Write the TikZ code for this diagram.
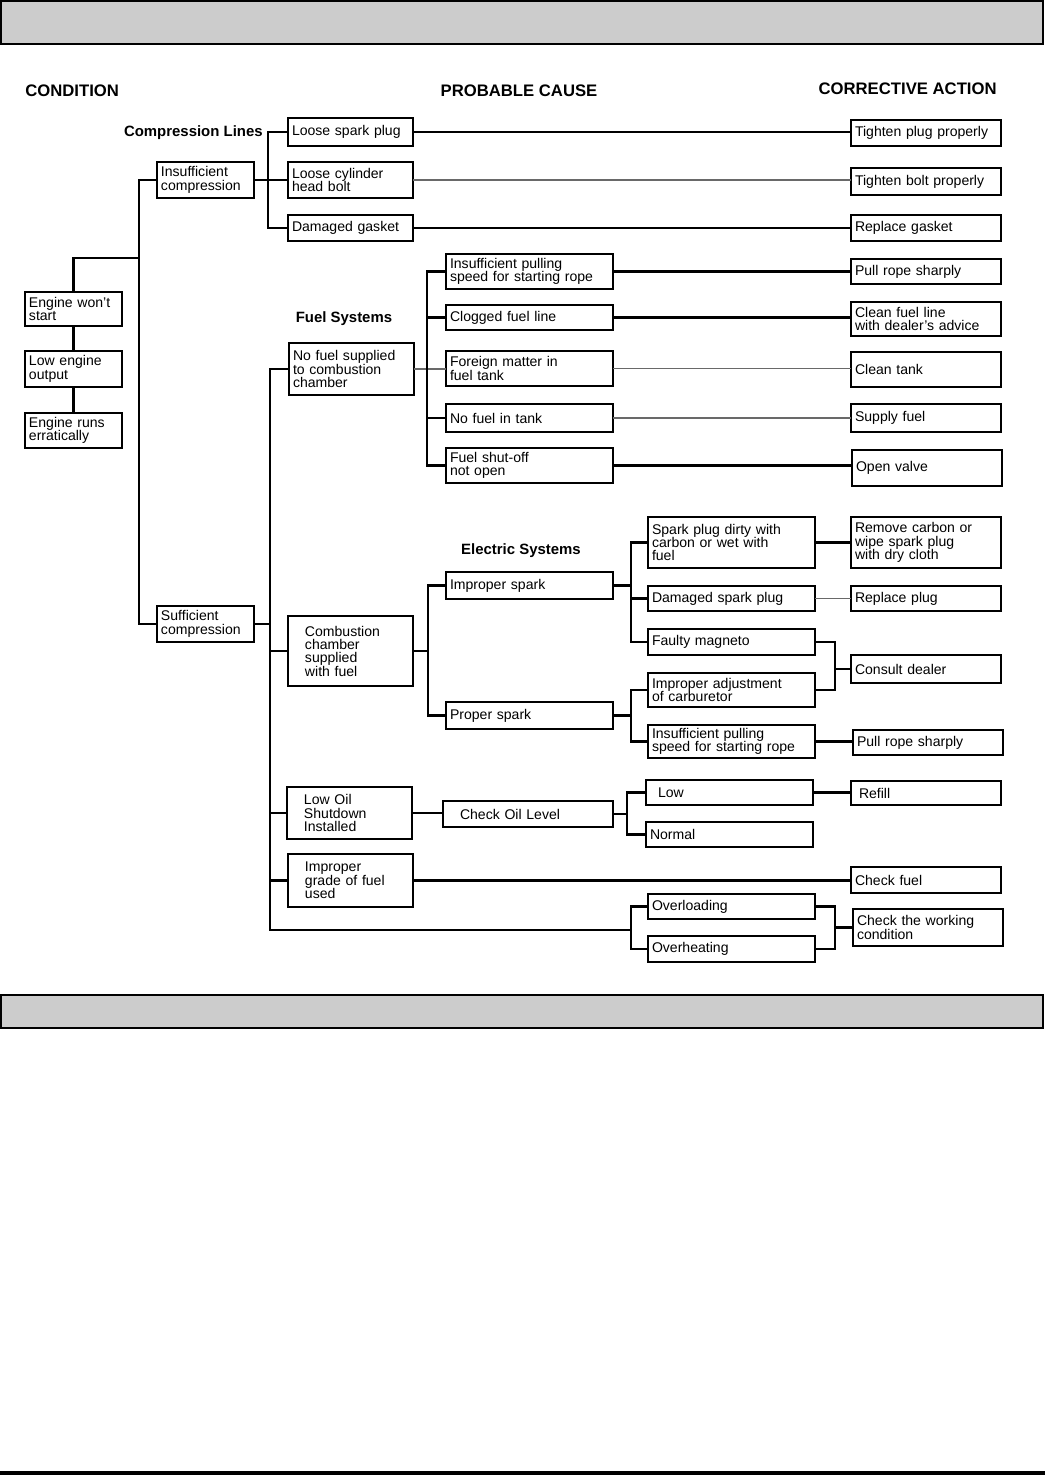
\documentclass[tikz,border=0pt]{standalone}
\usepackage{fontspec}
\setmainfont{Liberation Sans}
\usepackage{tikz}
\definecolor{barGray}{RGB}{204,204,204}
\definecolor{lineGray}{RGB}{105,105,105}

\begin{document}
\begin{tikzpicture}[x=0.02cm, y=-0.02cm,
  cbox/.style={draw, line width=1.3pt, rectangle, align=left, anchor=north west,
               inner xsep=0.08cm, inner ysep=1pt, outer sep=0pt,
               font=\fontsize{8}{7.6}\selectfont},
  ht/.style={minimum height=#1*0.02cm},
  cond/.style={cbox, text width=1.78cm},
  cause/.style={cbox, text width=2.34cm},
  fuel/.style={cbox, text width=3.18cm},
  act/.style={cbox, text width=2.84cm},
  indent/.style={inner xsep=0.34cm, text width=1.82cm},
  hdr/.style={font=\fontsize{9.5}{11}\selectfont\bfseries, inner sep=0pt},
  sect/.style={font=\fontsize{8.5}{10}\selectfont\bfseries, inner sep=0pt},
  ln/.style={line width=1.2pt},
  thinln/.style={line width=0.9pt, lineGray}]
  \useasboundingbox (0,0) rectangle (1045,1475);
  % bars
  \draw[line width=1.1pt, fill=barGray] (1,1) rectangle (1043,44);
  \draw[line width=1.1pt, fill=barGray] (1,995) rectangle (1043,1028);
  \fill (0,1471) rectangle (1045,1475);
  % column heads
  \node[hdr, anchor=west] (hcond) at (25,91) {CONDITION};
  \node[hdr] (hcause) at (519,91) {PROBABLE CAUSE};
  \node[hdr, anchor=east] (hact) at (997,89) {CORRECTIVE ACTION};
  \node[sect, anchor=east] (lcomp) at (263,133) {Compression Lines};
  \node[sect] (lfuel) at (344,319) {Fuel Systems};
  \node[sect] (lelec) at (521,551) {Electric Systems};

  % condition
  \node[cond, ht=34] (ws) at (25,292) {Engine won't\\start};
  \node[cond, ht=36] (lo) at (25,351) {Low engine\\output};
  \node[cond, ht=35] (er) at (25,413) {Engine runs\\erratically};
  \node[cond, ht=36] (ins) at (157,162) {Insufficient\\compression};
  \node[cond, ht=36] (suf) at (157,606) {Sufficient\\compression};

  % probable cause
  \node[cause, ht=28] (lsp) at (288,118) {Loose spark plug};
  \node[cause, ht=36] (hb) at (288,162) {Loose cylinder\\head bolt};
  \node[cause, ht=26] (dg) at (288,215) {Damaged gasket};
  \node[cause, ht=52] (nfs) at (289,343) {No fuel supplied\\to combustion\\chamber};
  \node[cause, indent, ht=70] (ccs) at (288,616) {Combustion\\chamber\\supplied\\with fuel};
  \node[cause, indent, ht=52] (los) at (287,787) {Low Oil\\Shutdown\\Installed};
  \node[cause, indent, ht=53] (igf) at (288,854) {Improper\\grade of fuel\\used};

  \node[fuel, ht=35] (ipr) at (446,254) {Insufficient pulling\\speed for starting rope};
  \node[fuel, ht=25] (cfl) at (446,305) {Clogged fuel line};
  \node[fuel, ht=35] (fm) at (446,351) {Foreign matter in\\fuel tank};
  \node[fuel, ht=28] (nft) at (446,404) {No fuel in tank};
  \node[fuel, ht=35] (fso) at (446,448) {Fuel shut-off\\not open};
  \node[fuel, ht=27] (isp) at (446,572) {Improper spark};
  \node[fuel, ht=27] (psp) at (446,702) {Proper spark};
  \node[fuel, ht=26, inner xsep=0.34cm, text width=2.72cm] (col) at (443,801) {Check Oil Level};

  \node[fuel, ht=51] (spd) at (648,517) {Spark plug dirty with\\carbon or wet with\\fuel};
  \node[fuel, ht=25] (dsp) at (648,586) {Damaged spark plug};
  \node[fuel, ht=26] (fmg) at (648,629) {Faulty magneto};
  \node[fuel, ht=34] (iac) at (648,673) {Improper adjustment\\of carburetor};
  \node[fuel, ht=33] (ipr2) at (648,725) {Insufficient pulling\\speed for starting rope};
  \node[fuel, ht=25, inner xsep=0.24cm, text width=2.86cm] (low) at (646,780) {Low};
  \node[fuel, ht=25] (nrm) at (646,822) {Normal};
  \node[fuel, ht=25] (ovl) at (648,894) {Overloading};
  \node[fuel, ht=26] (ovh) at (648,936) {Overheating};

  % corrective action
  \node[act, ht=26] (tpp) at (851,120) {Tighten plug properly};
  \node[act, ht=27] (tbp) at (851,168) {Tighten bolt properly};
  \node[act, ht=26] (rg) at (851,215) {Replace gasket};
  \node[act, ht=25] (prs) at (851,259) {Pull rope sharply};
  \node[act, ht=34] (cfa) at (851,302) {Clean fuel line\\with dealer's advice};
  \node[act, ht=35] (ct) at (851,352) {Clean tank};
  \node[act, ht=28] (sf) at (851,404) {Supply fuel};
  \node[act, ht=36] (ov) at (852,450) {Open valve};
  \node[act, ht=51] (rc) at (851,517) {Remove carbon or\\wipe spark plug\\with dry cloth};
  \node[act, ht=25] (rp) at (851,586) {Replace plug};
  \node[act, ht=28] (cd) at (851,655) {Consult dealer};
  \node[act, ht=25] (prs2) at (853,730) {Pull rope sharply};
  \node[act, ht=24, inner xsep=0.16cm, text width=2.68cm] (rf) at (851,781) {Refill};
  \node[act, ht=26] (chf) at (851,867) {Check fuel};
  \node[act, ht=37] (cwc) at (853,909) {Check the working\\condition};

  % condition links
  \coordinate (trunk) at (139,258);
  \draw[ln] (ws) -- (lo);
  \draw[ln] (lo) -- (er);
  \draw[ln] (ws.north) |- (trunk);
  \draw[ln] (ins.west) -- ++(-18,0) |- (suf.west);

  % compression
  \draw[ln] (ins.east) -- (ins.east -| hb.west);
  \draw[ln] (lsp.west) -- ++(-20,0) |- (dg.west);
  \draw[ln] (lsp.east) -- (lsp.east -| tpp.west);
  \draw[thinln] (hb.east) -- (hb.east -| tbp.west);
  \draw[ln] (dg.east) -- (dg.east -| rg.west);

  % sufficient compression trunk
  \coordinate (ovj) at (631,930);
  \draw[ln] (suf.east) -- ++(16,0);
  \draw[ln] (nfs.west) -- ++(-19,0) |- (ovj);
  \draw[ln] (ccs.west) -- ++(-18,0);
  \draw[ln] (los.west) -- ++(-17,0);
  \draw[ln] (igf.west) -- ++(-18,0);

  % fuel systems
  \draw[thinln] (nfs.east) -- (nfs.east -| fm.west);
  \draw[ln] (ipr.west) -- ++(-19,0) |- (fso.west);
  \draw[ln] (cfl.west) -- ++(-19,0);
  \draw[ln] (nft.west) -- ++(-19,0);
  \draw[ln] (ipr.east) -- (ipr.east -| prs.west);
  \draw[line width=1.5pt] (cfl.east) -- (cfl.east -| cfa.west);
  \draw[thinln] (fm.east) -- (fm.east -| ct.west);
  \draw[thinln] (nft.east) -- (nft.east -| sf.west);
  \draw[ln] (fso.east) -- (fso.east -| ov.west);

  % electric systems
  \draw[ln] (ccs.east) -- ++(15,0);
  \draw[ln] (isp.west) -- ++(-18,0) |- (psp.west);
  \draw[ln] (isp.east) -- ++(18,0);
  \draw[ln] (spd.west) -- ++(-17,0) |- (fmg.west);
  \draw[ln] (dsp.west) -- ++(-17,0);
  \draw[ln] (psp.east) -- ++(18,0);
  \draw[ln] (iac.west) -- ++(-17,0) |- (ipr2.west);
  \draw[ln] (spd.east) -- (spd.east -| rc.west);
  \draw[thinln] (dsp.east) -- (dsp.east -| rp.west);
  \draw[ln] (fmg.east) -- ++(20,0) |- (iac.east);
  \draw[ln] (cd.west) -- ++(-16,0);
  \draw[ln] (ipr2.east) -- (ipr2.east -| prs2.west);

  % oil level
  \draw[ln] (los.east) -- (los.east -| col.west);
  \draw[ln] (col.east) -- ++(14,0);
  \draw[ln] (low.west) -- ++(-19,0) |- (nrm.west);
  \draw[ln] (low.east) -- (low.east -| rf.west);

  % fuel grade and load
  \draw[ln] (igf.east) -- (igf.east -| chf.west);
  \draw[ln] (ovl.west) -- ++(-17,0) |- (ovh.west);
  \draw[ln] (ovl.east) -- ++(20,0) |- (ovh.east);
  \draw[ln] (cwc.west) -- ++(-18,0);
\end{tikzpicture}
\end{document}
